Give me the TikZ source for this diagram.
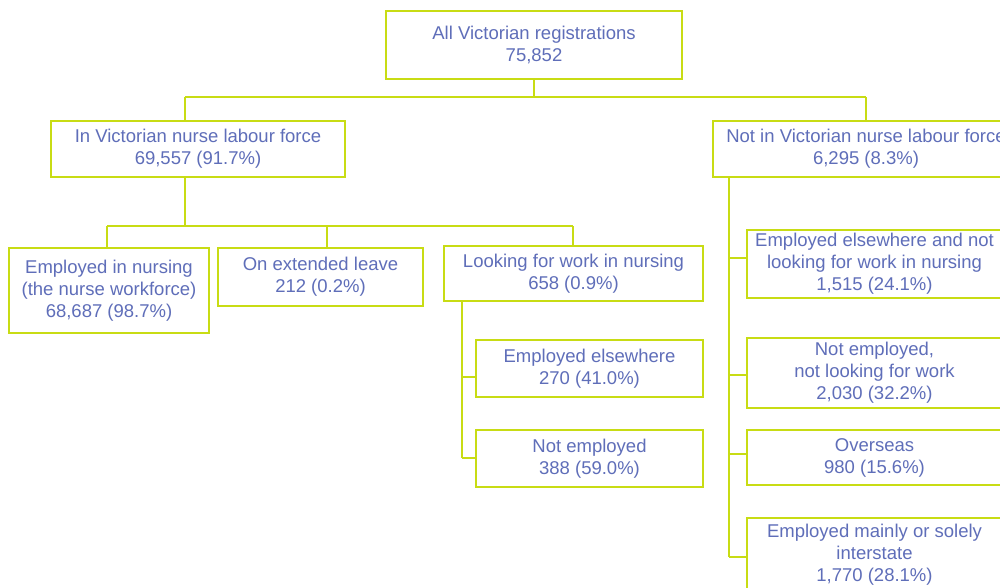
\documentclass[tikz,border=0pt]{standalone}
\usepackage{fontspec}
\setmainfont{Liberation Sans}
\definecolor{linec}{RGB}{200,220,20}
\definecolor{textc}{RGB}{95,110,185}
\begin{document}
\begin{tikzpicture}[x=1pt,y=-1pt,
  box/.style={draw=linec, line width=1.8pt, fill=white, rectangle, inner sep=0pt,
    text=textc, align=center, font=\fontsize{18.5}{22}\selectfont},
  conn/.style={draw=linec, line width=1.8pt}]
\useasboundingbox (0,0) rectangle (1000,587);
\clip (0,0) rectangle (1000,587);
% nodes
\node[box, minimum width=296pt, minimum height=68pt] (root) at (534,45) {All Victorian registrations\\75,852};
\node[box, minimum width=294pt, minimum height=56pt] (inlf) at (198,149) {In Victorian nurse labour force\\69,557 (91.7\%)};
\node[box, minimum width=306pt, minimum height=56pt] (notlf) at (866,149) {Not in Victorian nurse labour force\\6,295 (8.3\%)};
\node[box, minimum width=200pt, minimum height=85pt] (emp) at (109,290.5) {Employed in nursing\\(the nurse workforce)\\68,687 (98.7\%)};
\node[box, minimum width=205pt, minimum height=58pt] (leave) at (320.5,277) {On extended leave\\212 (0.2\%)};
\node[box, minimum width=259pt, minimum height=55pt] (look) at (573.5,273.5) {Looking for work in nursing\\658 (0.9\%)};
\node[box, minimum width=227pt, minimum height=57pt] (empel) at (589.5,368.5) {Employed elsewhere\\270 (41.0\%)};
\node[box, minimum width=227pt, minimum height=57pt] (notemp) at (589.5,458.5) {Not employed\\388 (59.0\%)};
\node[box, minimum width=255pt, minimum height=68pt] (r1) at (874.5,264) {Employed elsewhere and not\\looking for work in nursing\\1,515 (24.1\%)};
\node[box, minimum width=255pt, minimum height=70pt] (r2) at (874.5,373) {Not employed,\\not looking for work\\2,030 (32.2\%)};
\node[box, minimum width=255pt, minimum height=55pt] (r3) at (874.5,457.5) {Overseas\\980 (15.6\%)};
\node[box, minimum width=255pt, minimum height=74pt] (r4) at (874.5,555) {Employed mainly or solely\\interstate\\1,770 (28.1\%)};
% junction coordinates
\coordinate (ja) at (185,97);
\coordinate (jb) at (866,97);
\coordinate (jc) at (107,226);
\coordinate (jd) at (573,226);
\coordinate (je) at (327,226);
\coordinate (jf) at (462,458);
\coordinate (jg) at (729,557);
% connectors
\draw[conn] (root.south) -- (root.south |- ja);
\draw[conn] (ja) -- (jb);
\draw[conn] (ja) -- (ja |- inlf.north);
\draw[conn] (jb) -- (jb |- notlf.north);
\draw[conn] (ja |- inlf.south) -- (ja |- jc);
\draw[conn] (jc) -- (jd);
\draw[conn] (jc) -- (jc |- emp.north);
\draw[conn] (je) -- (je |- leave.north);
\draw[conn] (jd) -- (jd |- look.north);
\draw[conn] (jf |- look.south) -- (jf);
\draw[conn] (jf |- 0,377) -- (empel.west |- 0,377);
\draw[conn] (jf) -- (notemp.west |- jf);
\draw[conn] (jg |- notlf.south) -- (jg);
\draw[conn] (jg |- 0,258) -- (r1.west |- 0,258);
\draw[conn] (jg |- 0,375) -- (r2.west |- 0,375);
\draw[conn] (jg |- 0,454) -- (r3.west |- 0,454);
\draw[conn] (jg) -- (r4.west |- jg);
\end{tikzpicture}
\end{document}
